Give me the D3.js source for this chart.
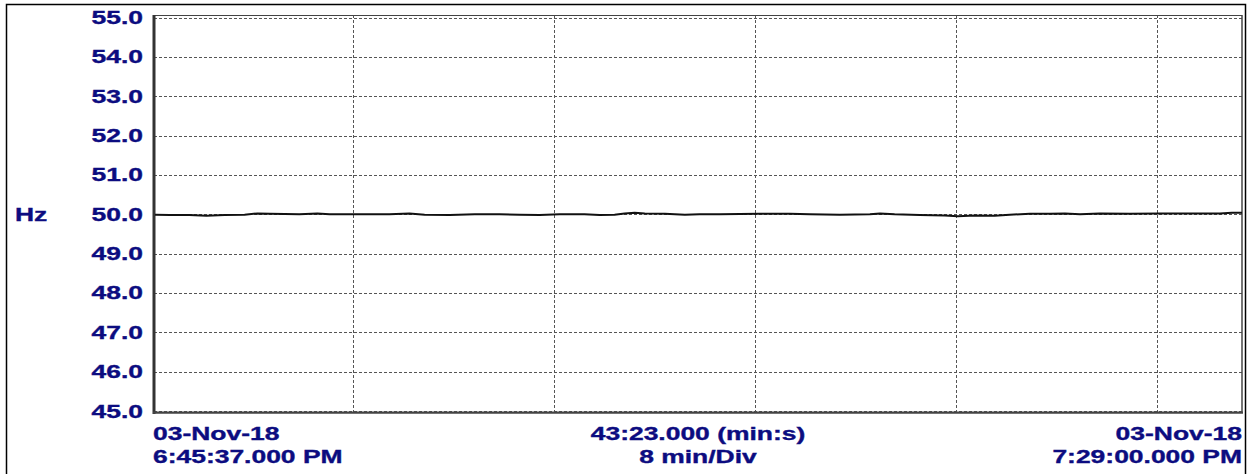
<!DOCTYPE html>
<meta charset="utf-8">
<style>
    body { margin: 0; background: #fff; }
    text {
        font-family: "Liberation Sans", Arial, sans-serif;
        font-weight: bold;
        font-size: 18px;
        fill: #0c0c80;
        stroke: #0c0c80;
        stroke-width: 0.35px;
    }
    .grid line {
        stroke: #555;
        stroke-width: 1;
        stroke-dasharray: 3,2;
    }
</style>
<svg width="1251" height="474"></svg>
<script src="https://cdn.jsdelivr.net/npm/d3@7"></script>
<script>

    // seconds from 6:45:37 PM, frequency in Hz
    var seconds = [0, 41, 88, 129, 172, 220, 251, 280, 351, 394, 423, 495, 566, 614, 650, 710, 770, 829,
        877, 925, 973, 1032, 1068, 1104, 1128, 1152, 1176, 1224, 1272, 1307, 1355, 1451, 1523, 1570, 1642,
        1714, 1738, 1773, 1833, 1893, 1924, 1965, 2012, 2048, 2096, 2144, 2180, 2216, 2263, 2335, 2407,
        2479, 2550, 2579, 2603];
    var hz = [49.99, 49.98, 49.98, 49.96, 49.98, 49.99, 50.02, 50.01, 50.00, 50.02, 50.00, 50.00, 50.00,
        50.02, 49.99, 49.98, 50.00, 50.00, 49.99, 49.98, 50.00, 50.00, 49.98, 49.99, 50.02, 50.04, 50.02,
        50.01, 49.99, 50.00, 50.00, 50.01, 50.01, 50.00, 49.99, 50.00, 50.02, 50.00, 49.98, 49.97, 49.95,
        49.97, 49.96, 49.99, 50.01, 50.01, 50.02, 50.00, 50.02, 50.01, 50.02, 50.02, 50.02, 50.04, 50.04];

    var yTicks = [45, 46, 47, 48, 49, 50, 51, 52, 53, 54, 55];
    var xGrid = [480, 960, 1440, 1920, 2400];   // 8 min/Div
    var total = 2603;                          // 43:23

    var leftLabel = ["03-Nov-18", "6:45:37.000 PM"];
    var midLabel = ["43:23.000 (min:s)", "8 min/Div"];
    var rightLabel = ["03-Nov-18", "7:29:00.000 PM"];

    const SX = 1.47;  // the original font is drawn wide

    var svg = d3.select("svg");

    var x = d3.scaleLinear().domain([0, total]).range([152.5, 1242]);
    var y = d3.scaleLinear().domain([45, 55]).range([411, 17.5]);

    // outer frame
    svg.append("rect")
        .attr("x", 6.5).attr("y", 4.5)
        .attr("width", 1239).attr("height", 500)
        .attr("fill", "none").attr("stroke", "#000").attr("stroke-width", 1.5);

    var grid = svg.append("g").attr("class", "grid");
    grid.selectAll(".h").data(yTicks).enter().append("line")
        .attr("x1", 154).attr("x2", 1242)
        .attr("y1", function (d) { return Math.round(y(d)) + 0.5; })
        .attr("y2", function (d) { return Math.round(y(d)) + 0.5; });
    grid.selectAll(".v").data(xGrid).enter().append("line")
        .attr("y1", 15).attr("y2", 412)
        .attr("x1", function (d) { return Math.floor(x(d)) + 0.5; })
        .attr("x2", function (d) { return Math.floor(x(d)) + 0.5; });

    // plot frame
    svg.append("line").attr("x1", 153).attr("x2", 1242).attr("y1", 15.5).attr("y2", 15.5)
        .attr("stroke", "#444").attr("stroke-width", 1.2);
    svg.append("line").attr("x1", 1242).attr("x2", 1242).attr("y1", 15).attr("y2", 413)
        .attr("stroke", "#444").attr("stroke-width", 1.5);
    svg.append("line").attr("x1", 154).attr("x2", 154).attr("y1", 15).attr("y2", 414)
        .attr("stroke", "#333").attr("stroke-width", 3);
    svg.append("line").attr("x1", 153).attr("x2", 1243).attr("y1", 412.7).attr("y2", 412.7)
        .attr("stroke", "#444").attr("stroke-width", 2.2);

    // frequency trace
    var line = d3.line()
        .x(function (d, i) { return Math.max(x(seconds[i]), 155); })
        .y(function (d) { return y(d); });
    svg.append("path")
        .attr("d", line(hz))
        .attr("fill", "none")
        .attr("stroke", "#111")
        .attr("stroke-width", 2);

    function label(str, px, py, anchor) {
        svg.append("text")
            .attr("transform", "translate(" + px + "," + py + ") scale(" + SX + ",1)")
            .attr("text-anchor", anchor)
            .text(str);
    }

    yTicks.forEach(function (d) {
        label(d.toFixed(1), 143, y(d) + 6.5, "end");
    });
    label("Hz", 15, y(50) + 6.5, "start");

    label(leftLabel[0], 153, 440, "start");
    label(leftLabel[1], 153, 463, "start");
    label(midLabel[0], 698, 440, "middle");
    label(midLabel[1], 698, 463, "middle");
    label(rightLabel[0], 1242, 440, "end");
    label(rightLabel[1], 1242, 463, "end");

</script>
